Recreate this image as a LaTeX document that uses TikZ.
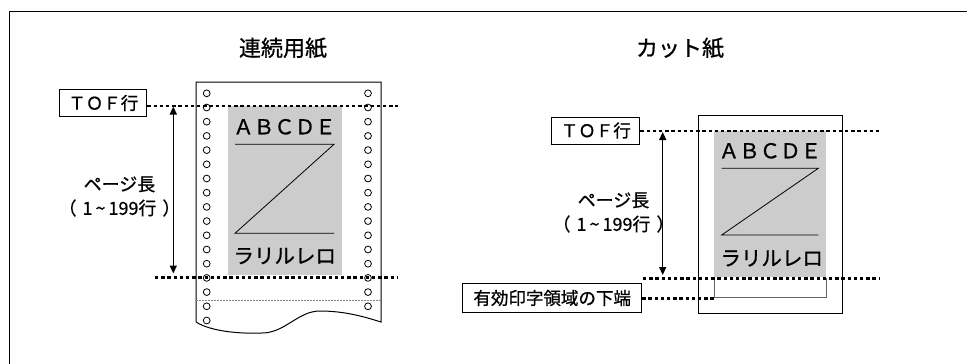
\documentclass[tikz,border=0pt]{standalone}
\usepackage{fontspec}
\setmainfont{Noto Sans CJK JP}[FakeBold=0.8]
\usetikzlibrary{arrows.meta,positioning,calc}

\begin{document}
\begin{tikzpicture}[
  x=1pt,y=-1pt,
  lbox/.style={draw,line width=1pt,inner sep=0pt,minimum height=27pt,
               font=\fontsize{17.5}{20}\selectfont},
  dotline/.style={line width=2.4pt,dash pattern=on 3.4pt off 2.8pt},
  hole/.style={line width=0.8pt},
  area/.style={fill=black!20,draw=none},
  ptext/.style={inner sep=0pt,font=\fontsize{20.5}{24}\selectfont},
  ttl/.style={inner sep=0pt,font=\fontsize{22}{26}\selectfont},
  lentext/.style={inner sep=0pt,align=center,font=\fontsize{18}{24}\selectfont},
  dimarrow/.style={line width=1.3pt,{Triangle[length=8pt,width=7pt]}-{Triangle[length=8pt,width=7pt]}},
]
\useasboundingbox (0,0) rectangle (967,364);
\draw[line width=1pt] (9,364) -- (9,11) -- (967,11);

% continuous paper
\node[ttl] (ttlL) at (283,48) {連続用紙};
\fill[area] (228.3,105.7) rectangle (341.7,275);
\draw[line width=1pt] (196,322) -- (196,82) -- (381,82) -- (381,322)
  .. controls (365,317) and (345,311) .. (320,311)
  .. controls (298,311) and (285,333) .. (262,333)
  .. controls (238,334) and (210,331) .. (196,322);
\draw[gray,line width=0.8pt,dash pattern=on 1.5pt off 1.5pt] (196,300) -- (381,300);
\node[ptext,anchor=base] (abcL) at (284.5,134.3) {ＡＢＣＤＥ};
\node[ptext] (raL) at (284.7,256) {ラリルレロ};
\coordinate (zL1) at (235,144.3);
\coordinate (zL2) at (334,144.3);
\coordinate (zL3) at (235,233.3);
\coordinate (zL4) at (334,233.3);
\draw[line width=0.8pt] (zL1) -- (zL2) -- (zL3) -- (zL4);

\node[lbox,minimum width=87pt] (tofL) at (103.3,103) {ＴＯＦ行};
\coordinate (tofLend) at (398,105.7);
\coordinate (botLa) at (155,277.3);
\coordinate (botLb) at (398,277.3);
\draw[dotline] (tofL.east |- tofLend) -- (tofLend);
\draw[dotline] (botLa) -- (botLb);
\coordinate (arLtop) at (173.3,106.5);
\coordinate (arLbot) at (173.3,273.5);
\draw[dimarrow] (arLtop) -- (arLbot);
\node[lentext] (lenL) at (119.5,196.5)
  {ページ長\\（\kern6pt 1\kern3pt\textasciitilde\kern3pt 199行\kern6pt）};

\foreach \i in {0,...,16}
  \draw[hole] (206.7,{93.3+14.2*\i}) circle[radius=3.4pt];
\foreach \i in {0,...,15}
  \draw[hole] (368,{93.3+14.2*\i}) circle[radius=3.4pt];

% cut sheet
\node[ttl] (ttlR) at (680,48) {カット紙};
\fill[area] (714,130.5) rectangle (825.7,276.7);
\draw[line width=1pt] (698.3,115) rectangle (842.3,313.3);
\draw[black!60,line width=1pt] (714,278) -- (714,297.3) -- (826,297.3) -- (826,278);
\node[ptext,anchor=base] (abcR) at (770,158.3) {ＡＢＣＤＥ};
\node[ptext] (raR) at (771.7,258.3) {ラリルレロ};
\coordinate (zR1) at (721.7,168.3);
\coordinate (zR2) at (818.3,168.3);
\coordinate (zR3) at (721.7,235);
\coordinate (zR4) at (818.3,235);
\draw[line width=0.8pt] (zR1) -- (zR2) -- (zR3) -- (zR4);

\node[lbox,minimum width=88pt] (tofR) at (595.8,130.5) {ＴＯＦ行};
\node[lbox,minimum width=179pt,minimum height=29pt] (effR) at (552.2,298) {有効印字領域の下端};
\coordinate (tofRend) at (880,131);
\coordinate (botRa) at (643,278.3);
\coordinate (botRb) at (880,278.3);
\coordinate (effRend) at (714,298.3);
\draw[dotline] (tofR.east |- tofRend) -- (tofRend);
\draw[dotline] (botRa) -- (botRb);
\draw[dotline] (effR.east |- effRend) -- (effRend);
\coordinate (arRtop) at (662.7,132);
\coordinate (arRbot) at (662.7,275);
\draw[dimarrow] (arRtop) -- (arRbot);
\node[lentext] (lenR) at (613.5,212.5)
  {ページ長\\（\kern6pt 1\kern3pt\textasciitilde\kern3pt 199行\kern6pt）};
\end{tikzpicture}
\end{document}
